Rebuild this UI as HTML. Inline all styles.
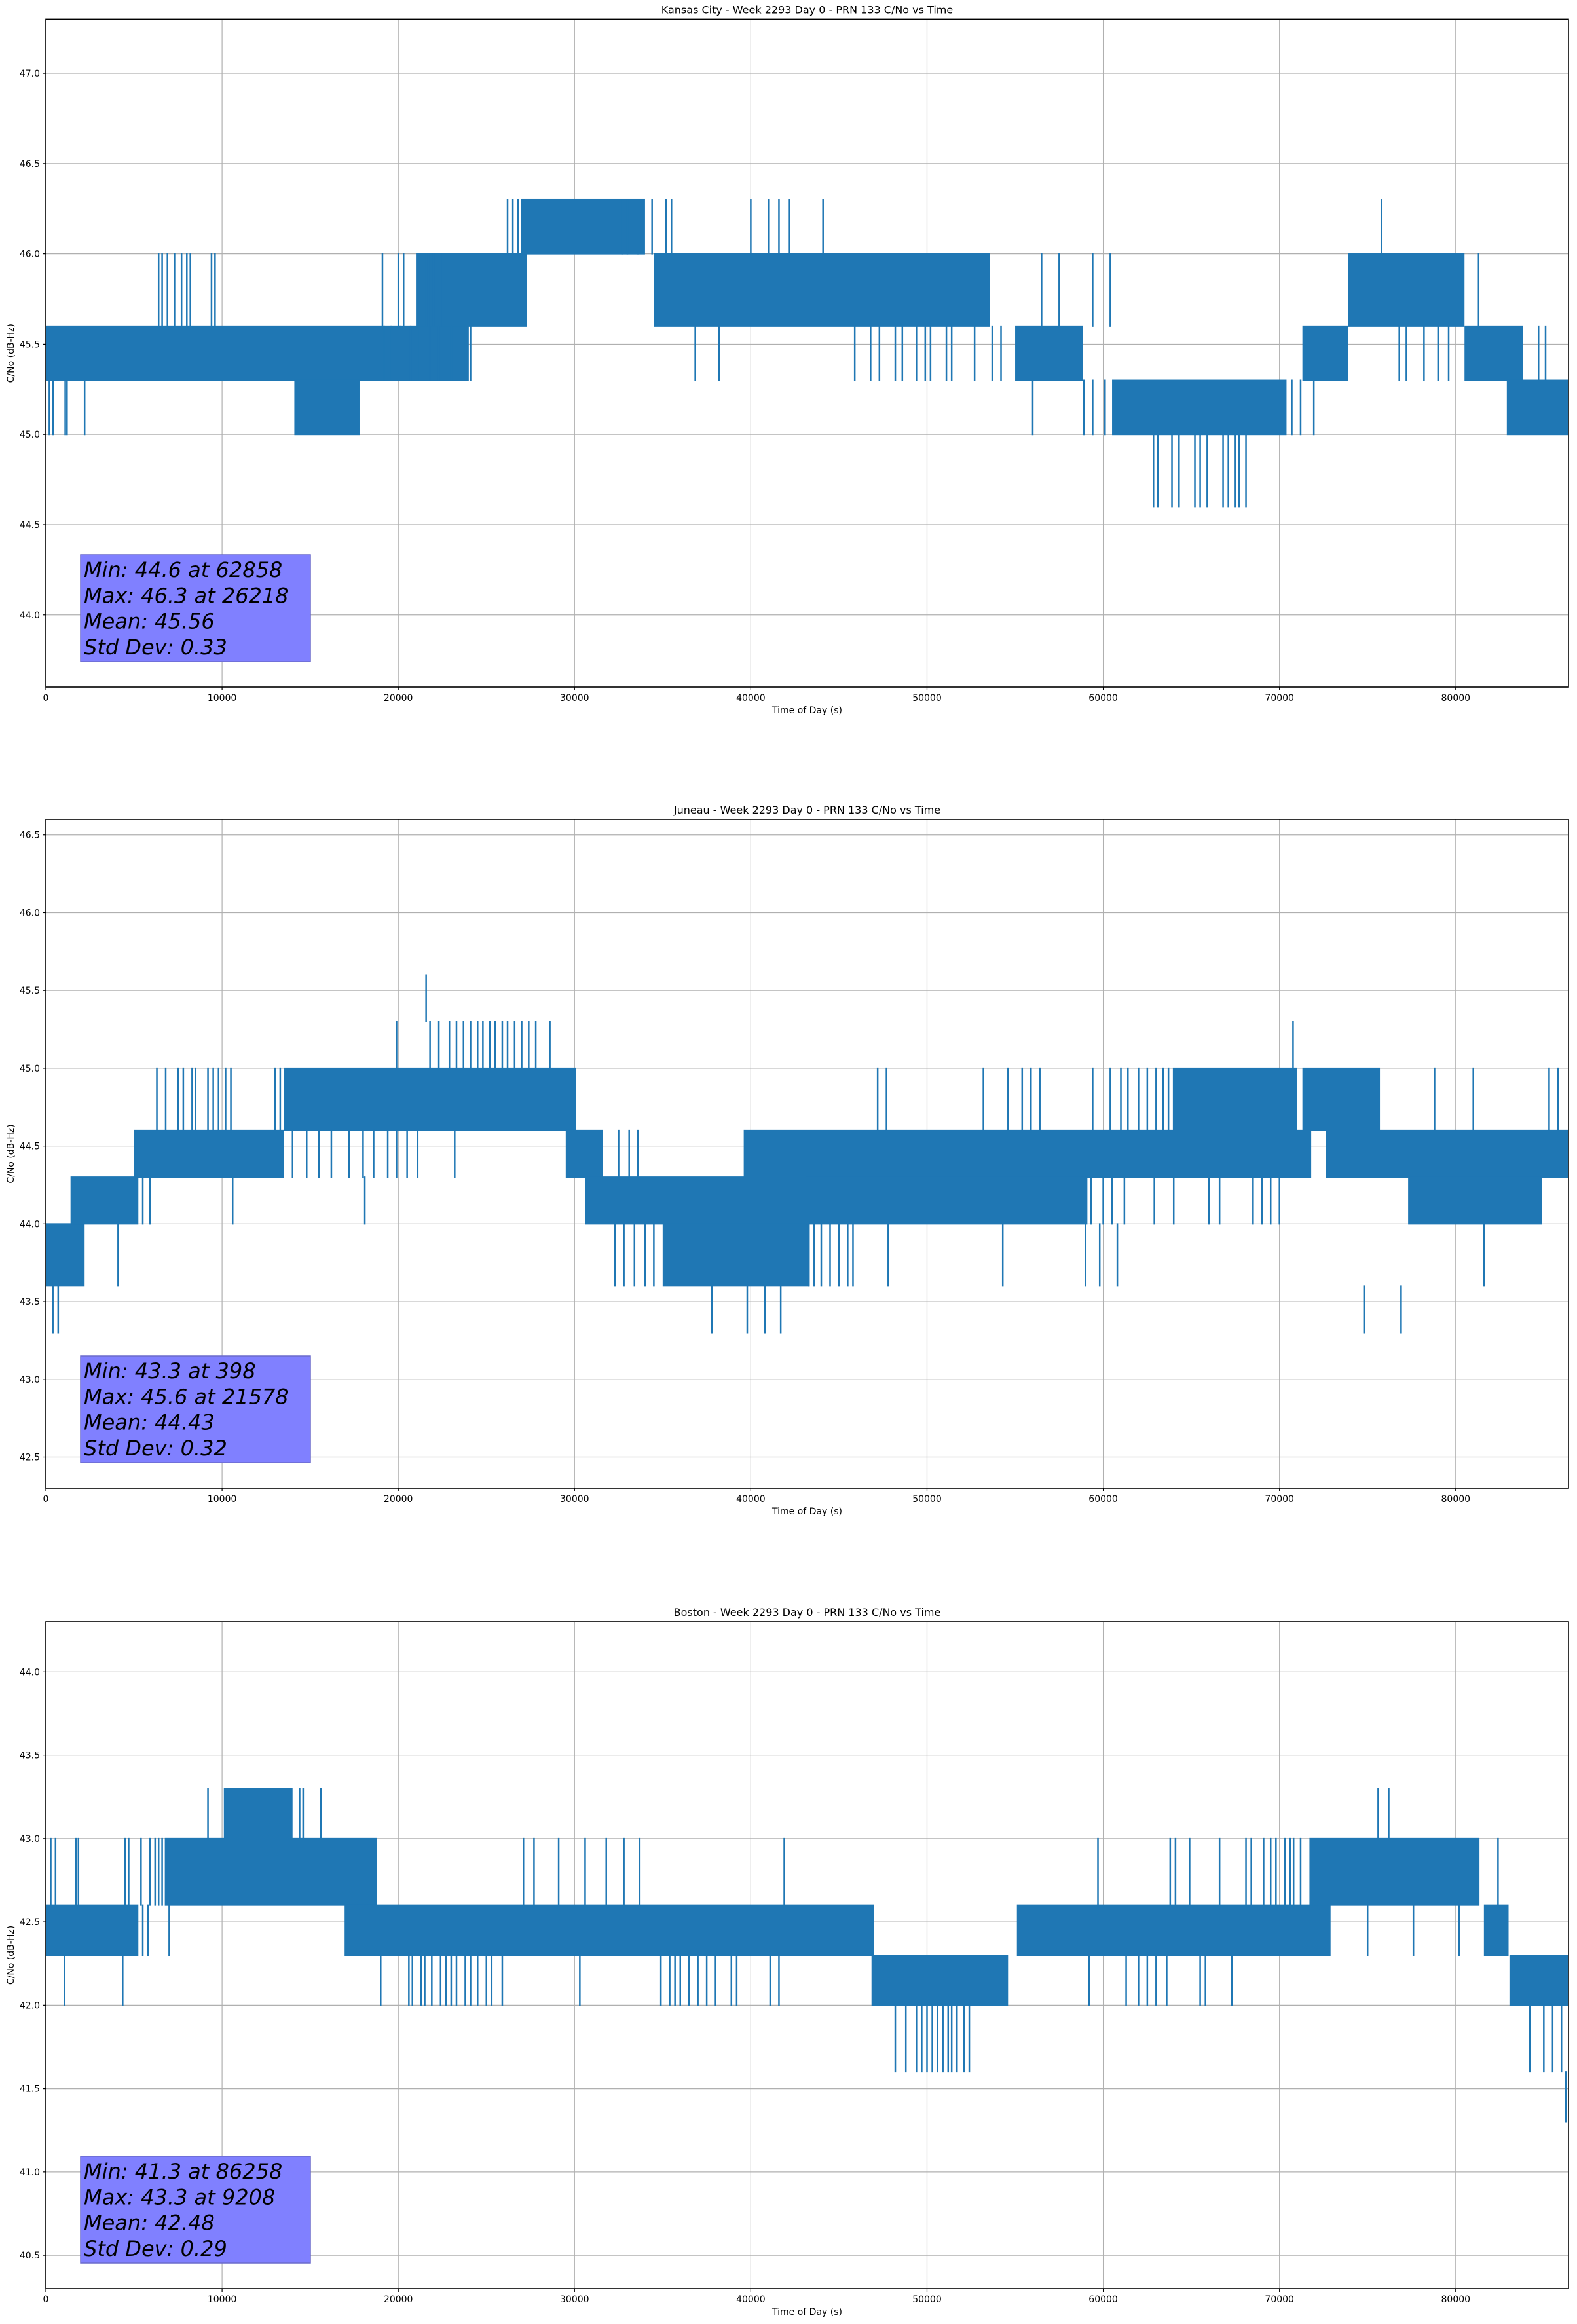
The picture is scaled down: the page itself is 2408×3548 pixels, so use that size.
<!DOCTYPE html>
<html><head><meta charset="utf-8"><style>
html,body{margin:0;padding:0;background:#fff;}
svg{display:block;font-family:"DejaVu Sans","Liberation Sans",sans-serif;}
</style></head><body>
<svg id="fig" width="2408" height="3548" viewBox="0 0 2408 3548" xmlns="http://www.w3.org/2000/svg">
<rect x="0" y="0" width="2408" height="3548" fill="#fff"/>
</svg>
<script>
// ---- Panel 1: Kansas City ----
const kcBandStart=[0,14100,21000,27000,34500,55000,60500,71300,73900,80500,82900];
const kcBandEnd=[24000,17800,27300,34000,53550,58850,70400,73900,80500,83800,86400];
const kcBandLo=[45.3,45.0,45.6,46.0,45.6,45.3,45.0,45.3,45.6,45.3,45.0];
const kcBandHi=[45.6,45.3,46.0,46.3,46.0,45.6,45.3,45.6,46.0,45.6,45.3];
const kcSpikeT=[200,400,1100,1200,2200,6400,6600,6900,7300,7700,8000,8200,9400,9600,19200,19600,20100,20700,21200,21800,22300,23000,23800,24100,19100,20000,20300,21500,21700,22000,22500,22800,26200,26500,26800,27000,32700,33000,33600,34400,35200,35500,36850,38200,40000,41000,41600,42200,44100,56500,57500,59400,60400,45900,46800,47300,48200,48600,49400,49900,50200,51100,51400,52700,53700,54200,56000,58900,59400,60100,62850,63100,63900,64300,65200,65500,65900,66800,67100,67500,67700,68100,70700,71200,71950,81300,76800,77200,78200,79000,79600,75800,84700,85100];
const kcSpikeLo=[45.0,45.0,45.0,45.0,45.0,45.6,45.6,45.6,45.6,45.6,45.6,45.6,45.6,45.6,45.3,45.3,45.3,45.3,45.3,45.3,45.3,45.3,45.3,45.3,45.6,45.6,45.6,45.6,45.6,45.6,45.6,45.6,46.0,46.0,46.0,46.0,46.0,46.0,46.0,46.0,46.0,46.0,45.3,45.3,46.0,46.0,46.0,46.0,46.0,45.6,45.6,45.6,45.6,45.3,45.3,45.3,45.3,45.3,45.3,45.3,45.3,45.3,45.3,45.3,45.3,45.3,45.0,45.0,45.0,45.0,44.6,44.6,44.6,44.6,44.6,44.6,44.6,44.6,44.6,44.6,44.6,44.6,45.0,45.0,45.0,45.6,45.3,45.3,45.3,45.3,45.3,46.0,45.3,45.3];
const kcSpikeHi=[45.3,45.3,45.3,45.3,45.3,46.0,46.0,46.0,46.0,46.0,46.0,46.0,46.0,46.0,45.6,45.6,45.6,45.6,45.6,45.6,45.6,45.6,45.6,45.6,46.0,46.0,46.0,46.0,46.0,46.0,46.0,46.0,46.3,46.3,46.3,46.3,46.3,46.3,46.3,46.3,46.3,46.3,45.6,45.6,46.3,46.3,46.3,46.3,46.3,46.0,46.0,46.0,46.0,45.6,45.6,45.6,45.6,45.6,45.6,45.6,45.6,45.6,45.6,45.6,45.6,45.6,45.3,45.3,45.3,45.3,45.0,45.0,45.0,45.0,45.0,45.0,45.0,45.0,45.0,45.0,45.0,45.0,45.3,45.3,45.3,46.0,45.6,45.6,45.6,45.6,45.6,46.3,45.6,45.6];
const kcYTicks=[44.0,44.5,45.0,45.5,46.0,46.5,47.0];
const kcStats=["Min: 44.6 at 62858","Max: 46.3 at 26218","Mean: 45.56","Std Dev: 0.33"];

// ---- Panel 2: Juneau ----
const juBandStart=[0,1400,5000,13500,29500,30600,35000,39600,72650,43120,77300,63950,71300];
const juBandEnd=[2200,5250,13500,30100,31600,43300,43300,71800,86400,59100,84900,71000,75700];
const juBandLo=[43.6,44.0,44.3,44.6,44.3,44.0,43.6,44.3,44.3,44.0,44.0,44.6,44.6];
const juBandHi=[44.0,44.3,44.6,45.0,44.6,44.3,44.0,44.6,44.6,44.3,44.3,45.0,45.0];
const juSpikeT=[398,700,4100,5500,5900,10600,18100,14000,14800,15500,16200,17200,18000,18600,19400,19900,20500,21100,23200,6300,6800,7500,7800,8300,8500,9200,9500,9800,10200,10500,13000,13300,19900,21800,22300,22900,23300,23700,24100,24500,24800,25200,25500,25900,26200,26600,27000,27400,27800,28600,21578,32500,33100,33600,32300,32800,33400,34000,34500,37800,39800,40800,41700,74800,76900,43300,43600,44000,44500,45000,45500,45800,47800,54300,59000,59800,60800,81600,47200,47700,53200,54600,55400,55900,56400,59400,60400,61000,61400,62000,62500,63000,63400,63700,78800,81000,85300,85800,70770,59300,60000,60500,61200,62900,64000,66000,66600,68500,69000,69500,70000];
const juSpikeLo=[43.3,43.3,43.6,44.0,44.0,44.0,44.0,44.3,44.3,44.3,44.3,44.3,44.3,44.3,44.3,44.3,44.3,44.3,44.3,44.6,44.6,44.6,44.6,44.6,44.6,44.6,44.6,44.6,44.6,44.6,44.6,44.6,45.0,45.0,45.0,45.0,45.0,45.0,45.0,45.0,45.0,45.0,45.0,45.0,45.0,45.0,45.0,45.0,45.0,45.0,45.3,44.3,44.3,44.3,43.6,43.6,43.6,43.6,43.6,43.3,43.3,43.3,43.3,43.3,43.3,43.6,43.6,43.6,43.6,43.6,43.6,43.6,43.6,43.6,43.6,43.6,43.6,43.6,44.6,44.6,44.6,44.6,44.6,44.6,44.6,44.6,44.6,44.6,44.6,44.6,44.6,44.6,44.6,44.6,44.6,44.6,44.6,44.6,45.0,44.0,44.0,44.0,44.0,44.0,44.0,44.0,44.0,44.0,44.0,44.0,44.0];
const juSpikeHi=[43.6,43.6,44.0,44.3,44.3,44.3,44.3,44.6,44.6,44.6,44.6,44.6,44.6,44.6,44.6,44.6,44.6,44.6,44.6,45.0,45.0,45.0,45.0,45.0,45.0,45.0,45.0,45.0,45.0,45.0,45.0,45.0,45.3,45.3,45.3,45.3,45.3,45.3,45.3,45.3,45.3,45.3,45.3,45.3,45.3,45.3,45.3,45.3,45.3,45.3,45.6,44.6,44.6,44.6,44.0,44.0,44.0,44.0,44.0,43.6,43.6,43.6,43.6,43.6,43.6,44.0,44.0,44.0,44.0,44.0,44.0,44.0,44.0,44.0,44.0,44.0,44.0,44.0,45.0,45.0,45.0,45.0,45.0,45.0,45.0,45.0,45.0,45.0,45.0,45.0,45.0,45.0,45.0,45.0,45.0,45.0,45.0,45.0,45.3,44.3,44.3,44.3,44.3,44.3,44.3,44.3,44.3,44.3,44.3,44.3,44.3];
const juYTicks=[42.5,43.0,43.5,44.0,44.5,45.0,45.5,46.0,46.5];
const juStats=["Min: 43.3 at 398","Max: 45.6 at 21578","Mean: 44.43","Std Dev: 0.32"];

// ---- Panel 3: Boston ----
const boBandStart=[0,6750,10100,17000,46850,55100,71700,81600,83050];
const boBandEnd=[5250,18800,14000,47000,54600,72900,81350,83000,86400];
const boBandLo=[42.3,42.6,43.0,42.3,42.0,42.3,42.6,42.3,42.0];
const boBandHi=[42.6,43.0,43.3,42.6,42.3,42.6,43.0,42.6,42.3];
const boSpikeT=[1050,4360,280,550,1700,1850,4500,4700,5400,5900,6200,6400,6600,5500,5800,7000,9200,14600,15600,14400,17000,17400,17800,18200,18600,19000,20600,20800,21300,21500,21900,22400,22700,23000,23300,23800,24100,24500,25000,25300,25900,30300,34900,35400,35700,36000,36500,37000,37500,38000,38900,39200,41100,41600,27100,27700,29100,30600,31800,32800,33700,41900,59700,63800,64100,64900,66600,68100,68400,69100,69500,69800,70300,70600,70800,71200,82400,75600,76200,48200,48800,49400,49700,50000,50300,50600,50900,51200,51400,51700,52100,52400,84200,85000,85500,86000,86258,59200,61300,62000,62500,63000,63600,65500,65800,67300,75000,77600,80200];
const boSpikeLo=[42.0,42.0,42.6,42.6,42.6,42.6,42.6,42.6,42.6,42.6,42.6,42.6,42.6,42.3,42.3,42.3,43.0,43.0,43.0,43.0,42.3,42.3,42.3,42.3,42.3,42.0,42.0,42.0,42.0,42.0,42.0,42.0,42.0,42.0,42.0,42.0,42.0,42.0,42.0,42.0,42.0,42.0,42.0,42.0,42.0,42.0,42.0,42.0,42.0,42.0,42.0,42.0,42.0,42.0,42.6,42.6,42.6,42.6,42.6,42.6,42.6,42.6,42.6,42.6,42.6,42.6,42.6,42.6,42.6,42.6,42.6,42.6,42.6,42.6,42.6,42.6,42.6,43.0,43.0,41.6,41.6,41.6,41.6,41.6,41.6,41.6,41.6,41.6,41.6,41.6,41.6,41.6,41.6,41.6,41.6,41.6,41.3,42.0,42.0,42.0,42.0,42.0,42.0,42.0,42.0,42.0,42.3,42.3,42.3];
const boSpikeHi=[42.3,42.3,43.0,43.0,43.0,43.0,43.0,43.0,43.0,43.0,43.0,43.0,43.0,42.6,42.6,42.6,43.3,43.3,43.3,43.3,42.6,42.3,42.3,42.3,42.3,42.3,42.3,42.3,42.3,42.3,42.3,42.3,42.3,42.3,42.3,42.3,42.3,42.3,42.3,42.3,42.3,42.3,42.3,42.3,42.3,42.3,42.3,42.3,42.3,42.3,42.3,42.3,42.3,42.3,43.0,43.0,43.0,43.0,43.0,43.0,43.0,43.0,43.0,43.0,43.0,43.0,43.0,43.0,43.0,43.0,43.0,43.0,43.0,43.0,43.0,43.0,43.0,43.3,43.3,42.0,42.0,42.0,42.0,42.0,42.0,42.0,42.0,42.0,42.0,42.0,42.0,42.0,42.0,42.0,42.0,42.0,41.6,42.3,42.3,42.3,42.3,42.3,42.3,42.3,42.3,42.3,42.6,42.6,42.6];
const boYTicks=[40.5,41.0,41.5,42.0,42.5,43.0,43.5,44.0];
const boStats=["Min: 41.3 at 86258","Max: 43.3 at 9208","Mean: 42.48","Std Dev: 0.29"];

const xTicks=[0,10000,20000,30000,40000,50000,60000,70000,80000];
const xMax=86400;

const NS="http://www.w3.org/2000/svg";
const fig=document.getElementById('fig');
function mk(tag,attrs,parent){const e=document.createElementNS(NS,tag);for(const k in attrs)e.setAttribute(k,attrs[k]);(parent||fig).appendChild(e);return e;}

const panels=[
 {key:'kansas-city',title:'Kansas City - Week 2293 Day 0 - PRN 133 C/No vs Time',top:29.4,bottom:1049,ymin:43.6,ymax:47.3,yt:kcYTicks,bs:kcBandStart,be:kcBandEnd,bl:kcBandLo,bh:kcBandHi,st:kcSpikeT,sl:kcSpikeLo,sh:kcSpikeHi,stats:kcStats},
 {key:'juneau',title:'Juneau - Week 2293 Day 0 - PRN 133 C/No vs Time',top:1251,bottom:2272,ymin:42.3,ymax:46.6,yt:juYTicks,bs:juBandStart,be:juBandEnd,bl:juBandLo,bh:juBandHi,st:juSpikeT,sl:juSpikeLo,sh:juSpikeHi,stats:juStats},
 {key:'boston',title:'Boston - Week 2293 Day 0 - PRN 133 C/No vs Time',top:2476,bottom:3494,ymin:40.3,ymax:44.3,yt:boYTicks,bs:boBandStart,be:boBandEnd,bl:boBandLo,bh:boBandHi,st:boSpikeT,sl:boSpikeLo,sh:boSpikeHi,stats:boStats}
];
const xL=70,xR=2395;
const C='#1f77b4';
panels.forEach(p=>{
  const g=mk('g',{});
  
  
  const X=t=>xL+(t/xMax)*(xR-xL);
  const Y=v=>p.bottom-(v-p.ymin)/(p.ymax-p.ymin)*(p.bottom-p.top);
  xTicks.forEach(t=>{const l=mk('line',{x1:X(t),x2:X(t),y1:p.top,y2:p.bottom,stroke:'#b0b0b0','stroke-width':1.2},g);
    });
  p.yt.forEach(v=>{const l=mk('line',{x1:xL,x2:xR,y1:Y(v),y2:Y(v),stroke:'#b0b0b0','stroke-width':1.2},g);
    });
  const sg=mk('g',{},g);
  
  
  for(let i=0;i<p.bs.length;i++){
    const r=mk('rect',{x:X(p.bs[i]),y:Y(p.bh[i])-1,width:X(p.be[i])-X(p.bs[i]),height:Y(p.bl[i])-Y(p.bh[i])+2,fill:C},sg);
    
    
  }
  for(let i=0;i<p.st.length;i++){
    const l=mk('line',{x1:X(p.st[i]),x2:X(p.st[i]),y1:Y(p.sh[i])-1,y2:Y(p.sl[i])+1,stroke:C,'stroke-width':2.5},sg);
    
    
  }
  const bx=mk('rect',{x:123,y:p.bottom-202,width:351,height:163,fill:'#8080ff',stroke:'#6a6acc','stroke-width':1.5},g);
  
  
  p.stats.forEach((s,i)=>{const t=mk('text',{x:128,y:p.bottom-168+i*39.3,'font-size':32,'font-style':'italic',fill:'#000'},g);t.textContent=s;
    });
  const fr=mk('rect',{x:xL,y:p.top,width:xR-xL,height:p.bottom-p.top,fill:'none',stroke:'#000','stroke-width':1.6},g);
  
  
  xTicks.forEach(t=>{mk('line',{x1:X(t),x2:X(t),y1:p.bottom,y2:p.bottom+5,stroke:'#000','stroke-width':1.2},g);
    const tx=mk('text',{x:X(t),y:p.bottom+21,'font-size':14,'text-anchor':'middle',fill:'#000'},g);tx.textContent=String(t);
    });
  p.yt.forEach(v=>{mk('line',{x1:xL-5,x2:xL,y1:Y(v),y2:Y(v),stroke:'#000','stroke-width':1.2},g);
    const tx=mk('text',{x:xL-9,y:Y(v)+5,'font-size':14,'text-anchor':'end',fill:'#000'},g);tx.textContent=v.toFixed(1);
    });
  const ti=mk('text',{x:(xL+xR)/2,y:p.top-9,'font-size':16,'text-anchor':'middle',fill:'#000'},g);ti.textContent=p.title;
  
  const xl=mk('text',{x:(xL+xR)/2,y:p.bottom+40,'font-size':14,'text-anchor':'middle',fill:'#000'},g);xl.textContent='Time of Day (s)';
  
  const cy=(p.top+p.bottom)/2;
  const yl=mk('text',{x:21,y:cy,'font-size':14,'text-anchor':'middle',fill:'#000',transform:'rotate(-90 21 '+cy+')'},g);yl.textContent='C/No (dB-Hz)';
  
});
</script>
</body></html>
